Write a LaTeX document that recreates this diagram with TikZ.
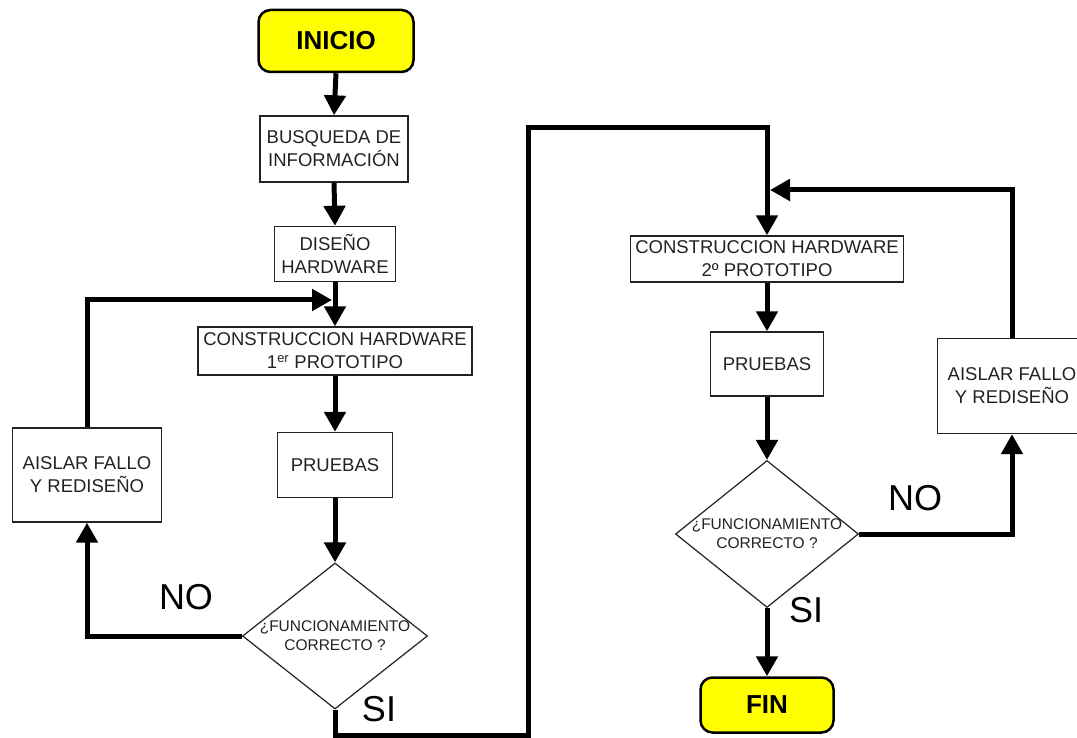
\documentclass[tikz,border=0pt]{standalone}
\usepackage{fontspec}
\setmainfont{Liberation Sans}
\usetikzlibrary{shapes.geometric,arrows.meta}
\definecolor{termfill}{HTML}{FFFF00}
\definecolor{inktext}{HTML}{222222}
\begin{document}
\begin{tikzpicture}[x=1pt,y=-1pt,
  stepbox/.style={draw=inktext,line width=1.4pt,fill=white,inner sep=0pt,
    align=center,text=inktext,font=\fontsize{18.5}{23}\selectfont},
  termbox/.style={draw=black,line width=2.5pt,fill=termfill,rounded corners=12pt,
    inner sep=0pt,font=\fontsize{26}{30}\selectfont\bfseries,text=black},
  decbox/.style={draw=inktext,line width=1.2pt,fill=white,shape=diamond,
    inner sep=0pt},
  dectext/.style={align=center,text=inktext,font=\fontsize{15.5}{19}\selectfont,inner sep=0pt},
  answer/.style={font=\fontsize{36}{40}\selectfont,text=black,inner sep=0pt},
  flow/.style={line width=5pt,-{Triangle[width=21pt,length=20pt]}},
  wire/.style={line width=5pt}]
\clip (0,0) rectangle (1077,738);
\fill[white] (0,0) rectangle (1077,738);

% left column: first prototype
\node[termbox,minimum width=155pt,minimum height=62pt] (ini) at (336,41) {INICIO};
\node[stepbox,minimum width=148pt,minimum height=66pt] (bus) at (334,149) {BUSQUEDA DE\\INFORMACIÓN};
\node[stepbox,minimum width=121pt,minimum height=55pt] (dis) at (335,254) {DISEÑO\\HARDWARE};
\node[stepbox,minimum width=274pt,minimum height=48pt] (c1) at (335,351) {CONSTRUCCION HARDWARE\\1\textsuperscript{er} PROTOTIPO};
\node[stepbox,minimum width=115pt,minimum height=65pt] (p1) at (335,465) {PRUEBAS};
\node[decbox,minimum width=185pt,minimum height=146pt] (d1) at (335,636) {};
\node[dectext] (d1t) at (d1.center) {¿FUNCIONAMIENTO\\CORRECTO ?};
\node[stepbox,minimum width=149pt,minimum height=94pt] (a1) at (87,475) {AISLAR FALLO\\Y REDISEÑO};

% right column: second prototype
\node[stepbox,minimum width=273pt,minimum height=46pt] (c2) at (767,259) {CONSTRUCCION HARDWARE\\2º PROTOTIPO};
\node[stepbox,minimum width=113pt,minimum height=64pt] (p2) at (767,364) {PRUEBAS};
\node[decbox,minimum width=183pt,minimum height=147pt] (d2) at (767,534) {};
\node[dectext] (d2t) at (d2.center) {¿FUNCIONAMIENTO\\CORRECTO ?};
\node[termbox,minimum width=133pt,minimum height=55pt] (fin) at (767,705) {FIN};
\node[stepbox,minimum width=149pt,minimum height=95pt] (a2) at (1012,386) {AISLAR FALLO\\Y REDISEÑO};

% branch labels
\node[answer] (no1) at (186,597) {NO};
\node[answer] (si1) at (379,709) {SI};
\node[answer] (no2) at (915,498) {NO};
\node[answer] (si2) at (806,610) {SI};

% junction points of the loops
\coordinate (j1) at (332,300);
\coordinate (j2) at (770,190);
\coordinate (b1) at (335,735);
\coordinate (b2) at (528,735);
\coordinate (b3) at (528,128);

% main flow
\draw[flow] (ini.south) -- (bus.north);
\draw[flow] (bus.south) -- (dis.north);
\draw[flow] (dis.south) -- (c1.north);
\draw[flow] (c1.south) -- (p1.north);
\draw[flow] (p1.south) -- (d1.north);
\draw[flow] (d1.west) -| (a1.south);
\draw[flow] (a1.north) |- (j1);
\draw[flow] (d1.south) -- (b1) -- (b2) -- (b3) -| (c2.north);
\draw[flow] (c2.south) -- (p2.north);
\draw[flow] (p2.south) -- (d2.north);
\draw[flow] (d2.south) -- (fin.north);
\draw[flow] (d2.east) -| (a2.south);
\draw[flow] (a2.north) |- (j2);
\end{tikzpicture}
\end{document}
